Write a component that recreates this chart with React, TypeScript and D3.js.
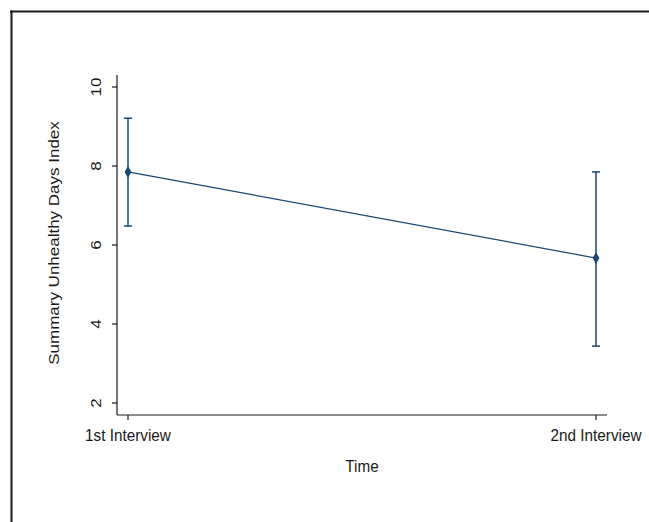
import React from "react";
import * as d3 from "d3";

const categories = ["1st Interview", "2nd Interview"];
const means = [7.85, 5.67];
const lower = [6.48, 3.44];
const upper = [9.21, 7.85];
const yTicks = [2, 4, 6, 8, 10];
const yLabel = "Summary Unhealthy Days Index";
const xLabel = "Time";

const W = 649;
const H = 522;
const plot = { left: 117, right: 607, top: 75, bottom: 415 };
const navy = "#1a476f";
const ink = "#1a1a1a";
const font = "'Liberation Sans', Arial, sans-serif";
const fs = 17;
const sx = 0.9;

export default function App() {
  const x = d3.scalePoint<string>().domain(categories).range([plot.left, plot.right]).padding(0.0235);
  const y = d3.scaleLinear().domain([2, 10]).range([403, 87]);
  const data = categories.map((c, i) => ({ c, m: means[i], lo: lower[i], hi: upper[i] }));
  const line = d3
    .line<{ c: string; m: number }>()
    .x((d) => x(d.c) as number)
    .y((d) => y(d.m));
  const diamond = d3.symbol().type(d3.symbolDiamond).size(40)();
  const cap = 4;

  return (
    <svg width={W} height={H} style={{ position: "absolute", left: 0, top: 0, background: "#fff" }}>
      <rect x={0} y={0} width={W} height={H} fill="#fff" />
      {/* outer frame */}
      <line x1={10} x2={W} y1={11.5} y2={11.5} stroke={ink} strokeWidth={2} />
      <line x1={11.5} x2={11.5} y1={10.5} y2={H} stroke={ink} strokeWidth={2} />

      {/* axes */}
      <line x1={plot.left} x2={plot.left} y1={plot.top} y2={plot.bottom} stroke={ink} strokeWidth={1.2} />
      <line x1={plot.left} x2={plot.right} y1={plot.bottom} y2={plot.bottom} stroke={ink} strokeWidth={1.2} />
      {yTicks.map((t) => (
        <g key={t}>
          <line x1={plot.left - 5} x2={plot.left} y1={y(t)} y2={y(t)} stroke={ink} strokeWidth={1.2} />
          <text
            transform={`translate(101,${y(t)}) scale(${sx},1) rotate(-90)`}
            textAnchor="middle"
            fontFamily={font}
            fontSize={fs}
            fill={ink}
          >
            {t}
          </text>
        </g>
      ))}
      {categories.map((c) => (
        <g key={c}>
          <line x1={x(c)} x2={x(c)} y1={plot.bottom} y2={plot.bottom + 5} stroke={ink} strokeWidth={1.2} />
          <text
            transform={`translate(${x(c)},441) scale(${sx},1)`}
            textAnchor="middle"
            fontFamily={font}
            fontSize={fs}
            fill={ink}
          >
            {c}
          </text>
        </g>
      ))}
      <text
        transform={`translate(59,243) scale(${sx},1) rotate(-90)`}
        textAnchor="middle"
        fontFamily={font}
        fontSize={fs}
        fill={ink}
      >
        {yLabel}
      </text>
      <text
        transform={`translate(${(plot.left + plot.right) / 2},472) scale(${sx},1)`}
        textAnchor="middle"
        fontFamily={font}
        fontSize={fs}
        fill={ink}
      >
        {xLabel}
      </text>

      {/* connecting line */}
      <path d={line(data) as string} fill="none" stroke={navy} strokeWidth={1.2} />

      {/* error bars */}
      {data.map((d) => {
        const cx = x(d.c) as number;
        return (
          <g key={d.c} stroke={navy} strokeWidth={1.5}>
            <line x1={cx} x2={cx} y1={y(d.hi)} y2={y(d.lo)} />
            <line x1={cx - cap} x2={cx + cap} y1={y(d.hi)} y2={y(d.hi)} />
            <line x1={cx - cap} x2={cx + cap} y1={y(d.lo)} y2={y(d.lo)} />
          </g>
        );
      })}
      {data.map((d) => (
        <path
          key={d.c + "m"}
          d={diamond as string}
          transform={`translate(${x(d.c)},${y(d.m)})`}
          fill={navy}
          stroke="none"
        />
      ))}
    </svg>
  );
}
